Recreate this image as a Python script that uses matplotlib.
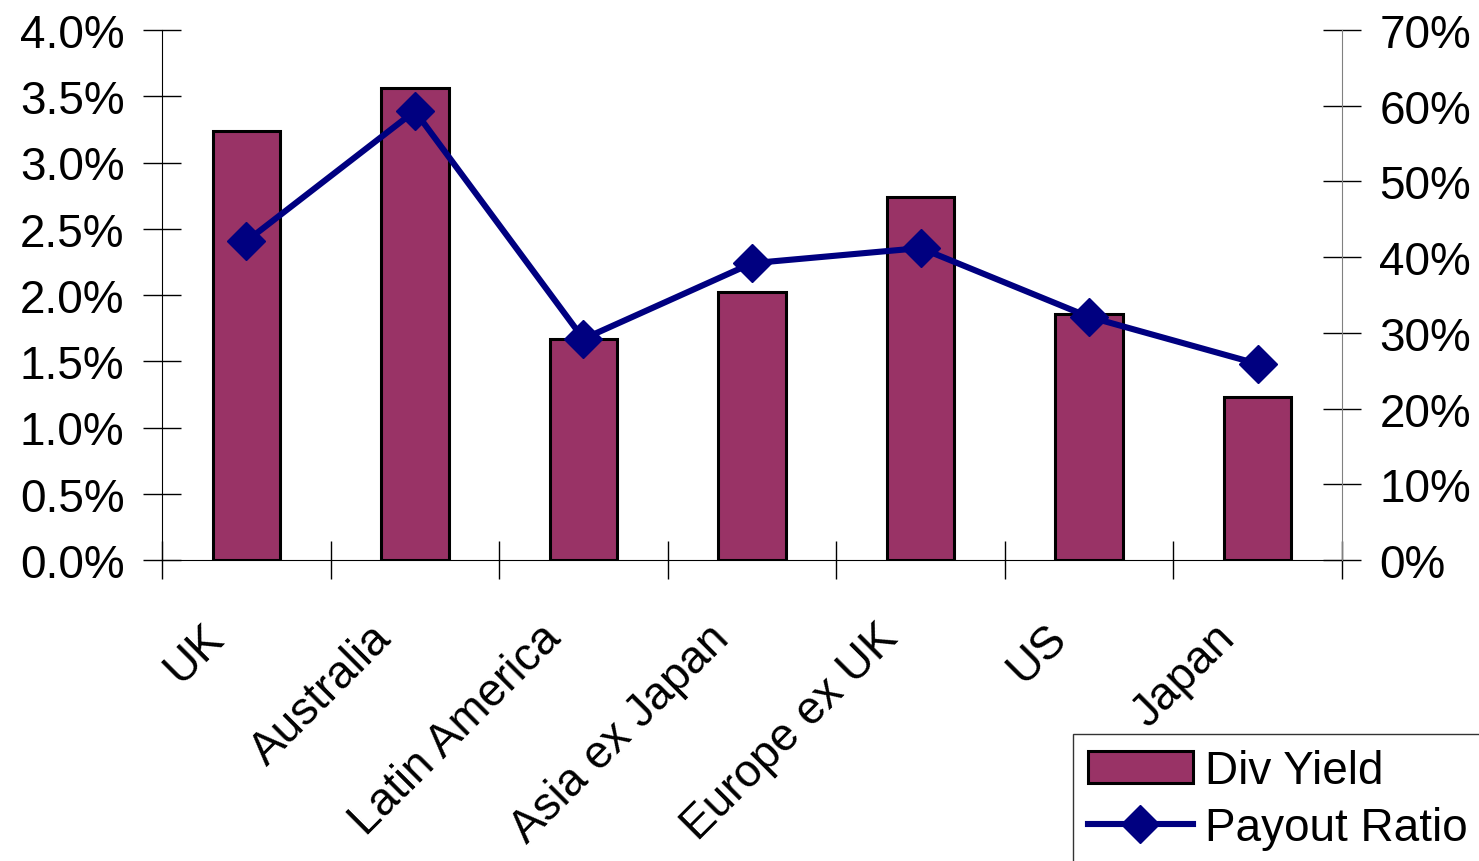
import matplotlib.pyplot as plt
from matplotlib.ticker import PercentFormatter
from matplotlib.transforms import ScaledTranslation

plt.rcParams['font.family'] = ['Liberation Sans', 'DejaVu Sans']

# data
regions = ['UK', 'Australia', 'Latin America', 'Asia ex Japan', 'Europe ex UK', 'US', 'Japan']
div_yield = [3.24, 3.56, 1.67, 2.02, 2.74, 1.86, 1.23]      # %
payout_ratio = [42.1, 59.3, 29.2, 39.2, 41.2, 32.1, 25.9]  # %

bar_color = '#993366'
line_color = '#000080'
fs = 33

fig = plt.figure(figsize=(14.79, 8.62), dpi=100)
ax = fig.add_axes([162 / 1479, 1 - 561 / 862, (1342 - 162) / 1479, (561 - 31) / 862])
ax2 = ax.twinx()

x = list(range(len(regions)))
bars = ax.bar(x, div_yield, width=0.4, color=bar_color, edgecolor='black', linewidth=2.2,
              label='Div Yield', zorder=2)
line, = ax2.plot(x, payout_ratio, color=line_color, linewidth=4.4, marker='D', markersize=19,
                 markerfacecolor=line_color, markeredgecolor=line_color, label='Payout Ratio', zorder=3)

# left axis
ax.set_xlim(-0.5, len(regions) - 0.5)
ax.set_ylim(0, 4.0)
ax.set_yticks([i * 0.5 for i in range(9)])
ax.yaxis.set_major_formatter(PercentFormatter(decimals=1))
ax.tick_params(axis='y', direction='inout', length=28, width=1, labelsize=fs, pad=13)

# right axis
ax2.set_ylim(0, 70)
ax2.set_yticks(range(0, 80, 10))
ax2.yaxis.set_major_formatter(PercentFormatter(decimals=0))
ax2.tick_params(axis='y', direction='inout', length=28, width=1, labelsize=fs, pad=13,
                color='black')

# x axis: ticks at category boundaries, labels at centres
ax.set_xticks([i - 0.5 for i in range(len(regions) + 1)])
ax.set_xticklabels([])
ax.tick_params(axis='x', which='major', direction='inout', length=28, width=1)
ax.set_xticks(x, minor=True)
ax.set_xticklabels(regions, minor=True, rotation=45, ha='right', va='top', fontsize=fs)
ax.tick_params(axis='x', which='minor', length=0, pad=40)
shift = ScaledTranslation(-14 / 100, 0, fig.dpi_scale_trans)
for lbl in ax.get_xticklabels(minor=True):
    lbl.set_transform(lbl.get_transform() + shift)

for a in (ax, ax2):
    a.spines['top'].set_visible(False)
ax2.spines['left'].set_visible(False)
ax2.spines['bottom'].set_visible(False)
ax.spines['right'].set_visible(False)
ax2.spines['right'].set_color('#808080')
ax.spines['left'].set_color('black')

leg = fig.legend([bars, line], ['Div Yield', 'Payout Ratio'], loc='upper left',
                 bbox_to_anchor=(1073 / 1479, 1 - 735 / 862), borderaxespad=0, fontsize=fs,
                 frameon=True, fancybox=False, edgecolor='black', borderpad=0.32,
                 handlelength=2.3, handletextpad=0.25, labelspacing=0.3)
leg.get_frame().set_linewidth(1)

fig.savefig('out.png', dpi=100)
